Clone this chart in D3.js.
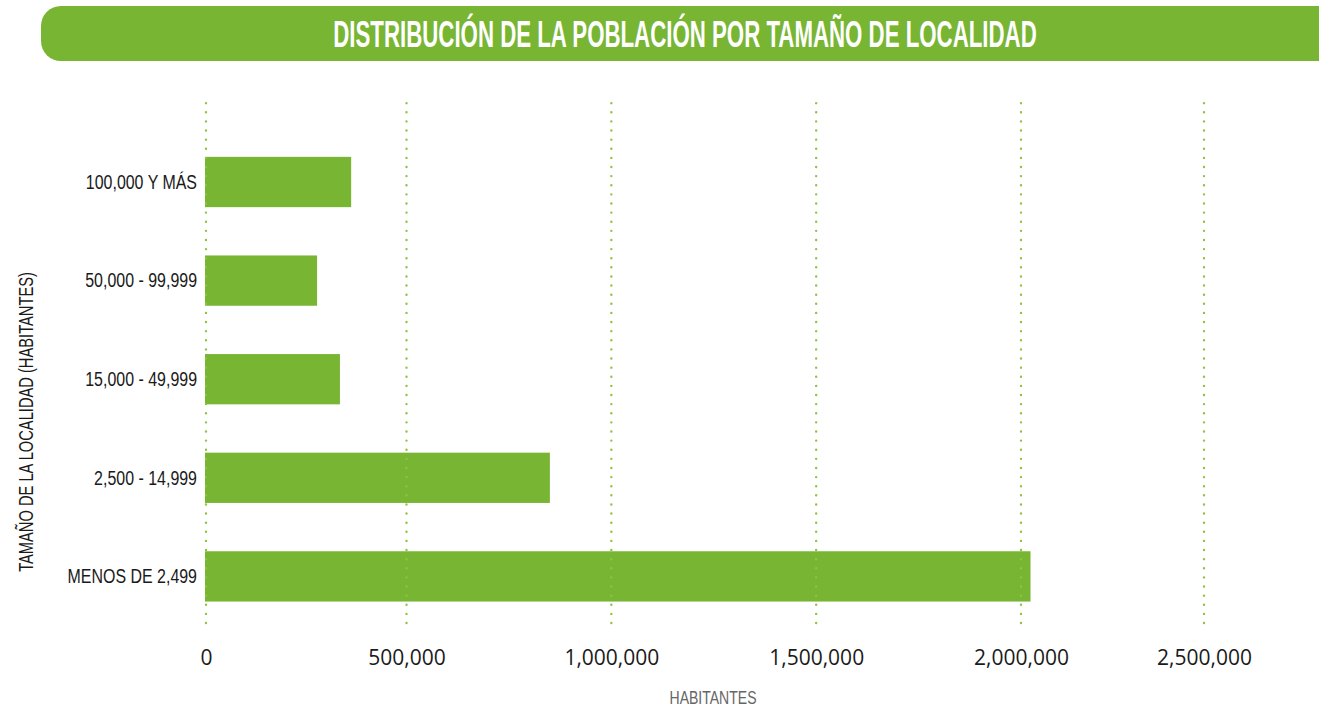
<!DOCTYPE html>
<html>
<head>
<meta charset="utf-8">
<script src="https://cdn.jsdelivr.net/npm/d3@7"></script>
<style>
  html, body { margin: 0; padding: 0; background: #fff; }
  svg { display: block; }
</style>
</head>
<body>
<div id="chart"></div>
<script>
// data
var categories = ['100,000 Y MÁS', '50,000 - 99,999', '15,000 - 49,999', '2,500 - 14,999', 'MENOS DE 2,499'];
var population = [362000, 277000, 334000, 850000, 2026000];
var tickValues = [0, 500000, 1000000, 1500000, 2000000, 2500000];

var titleText = 'DISTRIBUCIÓN DE LA POBLACIÓN POR TAMAÑO DE LOCALIDAD';
var yTitle = 'TAMAÑO DE LA LOCALIDAD (HABITANTES)';
var xTitle = 'HABITANTES';

var width = 1319, height = 711;
var green = '#78b533';
// no condensed face installed, so squeeze Liberation Sans horizontally
var sans = "'Liberation Sans', Arial, sans-serif";

var svg = d3.select('#chart').append('svg')
    .attr('width', width)
    .attr('height', height);

// helper: squeeze a text node to a given width along its own x axis
function squeeze(sel, targetWidth, base) {
  var w = sel.node().getComputedTextLength();
  sel.attr('transform', base + ' scale(' + (targetWidth / w) + ',1)');
}

// title bar
svg.append('rect')
    .attr('x', 41)
    .attr('y', 6)
    .attr('width', 1320)
    .attr('height', 55)
    .attr('rx', 20)
    .attr('fill', green);

var title = svg.append('text')
    .attr('text-anchor', 'middle')
    .attr('font-family', sans)
    .attr('font-weight', 'bold')
    .attr('font-size', '37px')
    .attr('fill', '#fff')
    .text(titleText);
squeeze(title, 704, 'translate(685,47)');

// scales (the source axis is not evenly spaced past 2,000,000)
var x = d3.scaleLinear()
    .domain([0, 500000, 2000000, 2500000])
    .range([206, 406.5, 1021, 1204]);

var y = d3.scaleBand()
    .domain(categories)
    .range([132.7, 625.7])
    .paddingInner(0.49)
    .paddingOuter(0.245);

// bars
svg.selectAll('rect.bar')
    .data(population)
  .enter().append('rect')
    .attr('class', 'bar')
    .attr('x', x(0) - 1)
    .attr('y', function(d, i) { return y(categories[i]); })
    .attr('width', function(d) { return x(d) - x(0) + 1; })
    .attr('height', y.bandwidth())
    .attr('fill', green);

// dotted grid, drawn over the bars
svg.selectAll('line.grid')
    .data(tickValues)
  .enter().append('line')
    .attr('class', 'grid')
    .attr('x1', function(d) { return x(d); })
    .attr('x2', function(d) { return x(d); })
    .attr('y1', 623)
    .attr('y2', 103)
    .attr('stroke', '#8cc540')
    .attr('stroke-width', 2.4)
    .attr('stroke-linecap', 'round')
    .attr('stroke-dasharray', '0 9.12');

// x tick labels
var xAxis = d3.axisBottom(x)
    .tickValues(tickValues)
    .tickSize(0)
    .tickPadding(0)
    .tickFormat(d3.format(','));

var gx = svg.append('g')
    .attr('transform', 'translate(0,645)')
    .call(xAxis);
gx.select('.domain').remove();
gx.selectAll('text')
    .attr('font-family', "'Open Sans', sans-serif")
    .attr('font-size', '21px')
    .attr('fill', '#1a1a1a')
    .attr('dy', '0.95em');

// category labels
var yAxis = d3.axisLeft(y)
    .tickSize(0)
    .tickPadding(0);

var gy = svg.append('g')
    .attr('transform', 'translate(197,0)')
    .call(yAxis);
gy.select('.domain').remove();
gy.selectAll('text')
    .attr('x', 0)
    .attr('font-family', sans)
    .attr('font-size', '21px')
    .attr('fill', '#1a1a1a')
    .attr('transform', 'scale(0.76,1)');

// axis titles
var yt = svg.append('text')
    .attr('text-anchor', 'middle')
    .attr('font-family', sans)
    .attr('font-size', '21px')
    .attr('fill', '#1a1a1a')
    .text(yTitle);
squeeze(yt, 300, 'translate(33,422) rotate(-90)');

var xt = svg.append('text')
    .attr('text-anchor', 'middle')
    .attr('font-family', sans)
    .attr('font-size', '18.5px')
    .attr('fill', '#666')
    .text(xTitle);
squeeze(xt, 87, 'translate(713,704)');
</script>
</body>
</html>
